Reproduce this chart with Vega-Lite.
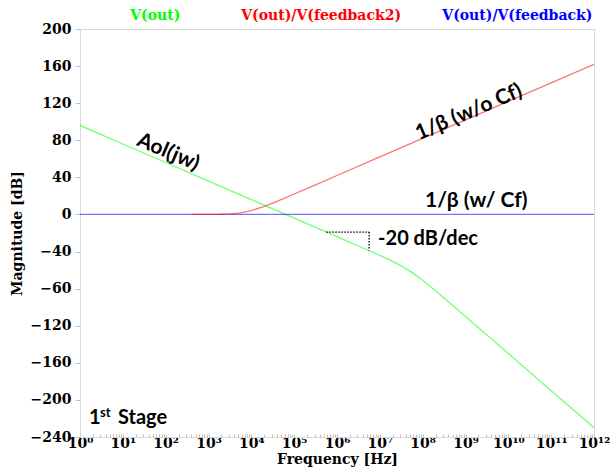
{
  "$schema": "https://vega.github.io/schema/vega-lite/v6.json",
  "width": 514,
  "height": 408,
  "autosize": {"type": "none"},
  "padding": {"left": 80, "top": 29, "right": 16, "bottom": 38},
  "background": "white",
  "config": {
    "view": {"stroke": "#d9d9d9", "strokeWidth": 1},
    "axis": {"grid": false, "domainColor": "#d9d9d9", "tickColor": "#bfbfbf", "labelColor": "black", "titleColor": "black", "labelOverlap": false}
  },
  "encoding": {
    "x": {
      "field": "freq", "type": "quantitative",
      "scale": {"type": "log", "domain": [1, 1000000000000], "nice": false},
      "axis": {
        "title": "Frequency [Hz]",
        "titleFont": "DejaVu Serif", "titleFontWeight": "bold", "titleFontSize": 14, "titlePadding": 2,
        "labelFont": "DejaVu Serif", "labelFontWeight": "bold", "labelFontSize": 14,
        "labelOverlap": false, "labelFlush": false, "labelPadding": 2,
        "tickSize": -3,
        "values": [1,2,3,4,5,6,7,8,9,10,20,30,40,50,60,70,80,90,100,200,300,400,500,600,700,800,900,1e3,2e3,3e3,4e3,5e3,6e3,7e3,8e3,9e3,1e4,2e4,3e4,4e4,5e4,6e4,7e4,8e4,9e4,1e5,2e5,3e5,4e5,5e5,6e5,7e5,8e5,9e5,1e6,2e6,3e6,4e6,5e6,6e6,7e6,8e6,9e6,1e7,2e7,3e7,4e7,5e7,6e7,7e7,8e7,9e7,1e8,2e8,3e8,4e8,5e8,6e8,7e8,8e8,9e8,1e9,2e9,3e9,4e9,5e9,6e9,7e9,8e9,9e9,1e10,2e10,3e10,4e10,5e10,6e10,7e10,8e10,9e10,1e11,2e11,3e11,4e11,5e11,6e11,7e11,8e11,9e11,1e12],
        "labelExpr": "abs(log(datum.value)/LN10 - round(log(datum.value)/LN10)) < 0.000001 ? '10' + ['⁰','¹','²','³','⁴','⁵','⁶','⁷','⁸','⁹','¹⁰','¹¹','¹²'][round(log(datum.value)/LN10)] : ''"
      }
    },
    "y": {
      "field": "mag", "type": "quantitative",
      "scale": {"domain": [-240, 200], "nice": false, "zero": false},
      "axis": {
        "title": "Magnitude [dB]",
        "titleFont": "DejaVu Serif", "titleFontWeight": "bold", "titleFontSize": 14, "titlePadding": 6,
        "labelFont": "DejaVu Serif", "labelFontWeight": "bold", "labelFontSize": 14, "labelPadding": 4,
        "labelOverlap": false, "labelFlush": false,
        "tickSize": 5,
        "values": [-240, -200, -160, -120, -80, -40, 0, 40, 80, 120, 160, 200],
        "labelExpr": "datum.value == -80 ? '−60' : datum.label"
      }
    }
  },
  "layer": [
    {
      "data": {"values": [
        {"trace": "V(out)", "freq": 1, "mag": 96},
        {"trace": "V(out)", "freq": 10, "mag": 76},
        {"trace": "V(out)", "freq": 100, "mag": 56},
        {"trace": "V(out)", "freq": 1000, "mag": 36},
        {"trace": "V(out)", "freq": 10000, "mag": 16},
        {"trace": "V(out)", "freq": 100000, "mag": -4},
        {"trace": "V(out)", "freq": 1000000, "mag": -24},
        {"trace": "V(out)", "freq": 3162278, "mag": -34},
        {"trace": "V(out)", "freq": 10000000, "mag": -44.2},
        {"trace": "V(out)", "freq": 17782794, "mag": -49.5},
        {"trace": "V(out)", "freq": 31622777, "mag": -55.5},
        {"trace": "V(out)", "freq": 56234133, "mag": -62.5},
        {"trace": "V(out)", "freq": 100000000, "mag": -71.0},
        {"trace": "V(out)", "freq": 177827941, "mag": -80.3},
        {"trace": "V(out)", "freq": 316227766, "mag": -90.1},
        {"trace": "V(out)", "freq": 1000000000, "mag": -110},
        {"trace": "V(out)", "freq": 10000000000, "mag": -150},
        {"trace": "V(out)", "freq": 100000000000, "mag": -190},
        {"trace": "V(out)", "freq": 1000000000000, "mag": -230},
        {"trace": "V(out)/V(feedback)", "freq": 1, "mag": 0},
        {"trace": "V(out)/V(feedback)", "freq": 1000000000000, "mag": 0},
        {"trace": "V(out)/V(feedback2)", "freq": 398.1, "mag": 0.01},
        {"trace": "V(out)/V(feedback2)", "freq": 1000, "mag": 0.07},
        {"trace": "V(out)/V(feedback2)", "freq": 1778.3, "mag": 0.21},
        {"trace": "V(out)/V(feedback2)", "freq": 3162.3, "mag": 0.64},
        {"trace": "V(out)/V(feedback2)", "freq": 5623.4, "mag": 1.76},
        {"trace": "V(out)/V(feedback2)", "freq": 10000, "mag": 4.12},
        {"trace": "V(out)/V(feedback2)", "freq": 17782.8, "mag": 7.79},
        {"trace": "V(out)/V(feedback2)", "freq": 31622.8, "mag": 12.27},
        {"trace": "V(out)/V(feedback2)", "freq": 56234.1, "mag": 17.08},
        {"trace": "V(out)/V(feedback2)", "freq": 100000, "mag": 22.03},
        {"trace": "V(out)/V(feedback2)", "freq": 316227.8, "mag": 32.0},
        {"trace": "V(out)/V(feedback2)", "freq": 1000000, "mag": 42.0},
        {"trace": "V(out)/V(feedback2)", "freq": 10000000, "mag": 62.0},
        {"trace": "V(out)/V(feedback2)", "freq": 100000000, "mag": 82.0},
        {"trace": "V(out)/V(feedback2)", "freq": 1000000000, "mag": 102.0},
        {"trace": "V(out)/V(feedback2)", "freq": 10000000000, "mag": 122.0},
        {"trace": "V(out)/V(feedback2)", "freq": 100000000000, "mag": 142.0},
        {"trace": "V(out)/V(feedback2)", "freq": 1000000000000, "mag": 162.0}
      ]},
      "mark": {"type": "line", "strokeWidth": 1.3, "strokeOpacity": 0.55, "clip": true},
      "encoding": {
        "color": {
          "field": "trace", "type": "nominal",
          "scale": {"domain": ["V(out)", "V(out)/V(feedback2)", "V(out)/V(feedback)"], "range": ["#00ff00", "#ff0000", "#0000ff"]},
          "legend": null
        },
        "order": {"field": "freq"}
      }
    },
    {
      "data": {"values": [{"freq": 562341, "freq2": 5623413, "mag": -19}]},
      "mark": {"type": "rule", "strokeDash": [1.5, 1.5], "color": "black", "strokeWidth": 1.3},
      "encoding": {"x2": {"field": "freq2"}}
    },
    {
      "data": {"values": [{"freq": 5623413, "mag": -19, "mag2": -39}]},
      "mark": {"type": "rule", "strokeDash": [1.5, 1.5], "color": "black", "strokeWidth": 1.3},
      "encoding": {"y2": {"field": "mag2"}}
    },
    {
      "data": {"values": [
        {"label": "V(out)", "freq": 57, "mag": 200, "col": "V(out)"},
        {"label": "V(out)/V(feedback2)", "freq": 426000, "mag": 200, "col": "V(out)/V(feedback2)"},
        {"label": "V(out)/V(feedback)", "freq": 16200000000, "mag": 200, "col": "V(out)/V(feedback)"}
      ]},
      "mark": {"type": "text", "font": "DejaVu Serif", "fontWeight": "bold", "fontSize": 14, "dy": -13, "align": "center", "baseline": "middle"},
      "encoding": {
        "text": {"field": "label"},
        "color": {
          "field": "col", "type": "nominal",
          "scale": {"domain": ["V(out)", "V(out)/V(feedback2)", "V(out)/V(feedback)"], "range": ["#55ff33", "#ee1111", "#3333ee"]},
          "legend": null
        }
      }
    },
    {
      "data": {"values": [{"label": "Aol(jw)", "freq": 114, "mag": 67}]},
      "mark": {"type": "text", "font": "Lato", "fontWeight": "bold", "fontSize": 21, "angle": 23, "align": "center", "baseline": "middle", "color": "black"},
      "encoding": {"text": {"field": "label"}}
    },
    {
      "data": {"values": [{"label": "1/β (w/o Cf)", "freq": 1200000000, "mag": 110}]},
      "mark": {"type": "text", "font": "Lato", "fontWeight": "bold", "fontSize": 21, "angle": 337, "align": "center", "baseline": "middle", "color": "black"},
      "encoding": {"text": {"field": "label"}}
    },
    {
      "data": {"values": [{"label": "1/β (w/ Cf)", "freq": 1780000000, "mag": 14.6}]},
      "mark": {"type": "text", "font": "Lato", "fontWeight": "bold", "fontSize": 21, "align": "center", "baseline": "middle", "color": "black"},
      "encoding": {"text": {"field": "label"}}
    },
    {
      "data": {"values": [{"label": "-20 dB/dec", "freq": 9100000, "mag": -26.4}]},
      "mark": {"type": "text", "font": "Lato", "fontWeight": "bold", "fontSize": 20, "align": "left", "baseline": "middle", "color": "black"},
      "encoding": {"text": {"field": "label"}}
    },
    {
      "data": {"values": [{"label": "1", "freq": 1.62, "mag": -219.5}]},
      "mark": {"type": "text", "font": "Lato", "fontWeight": "bold", "fontSize": 20, "align": "left", "baseline": "middle", "color": "black"},
      "encoding": {"text": {"field": "label"}}
    },
    {
      "data": {"values": [{"label": "st", "freq": 1.62, "mag": -219.5}]},
      "mark": {"type": "text", "font": "Lato", "fontWeight": "bold", "fontSize": 13, "align": "left", "baseline": "middle", "color": "black", "dx": 11, "dy": -5},
      "encoding": {"text": {"field": "label"}}
    },
    {
      "data": {"values": [{"label": "Stage", "freq": 1.62, "mag": -219.5}]},
      "mark": {"type": "text", "font": "Lato", "fontWeight": "bold", "fontSize": 20, "align": "left", "baseline": "middle", "color": "black", "dx": 29},
      "encoding": {"text": {"field": "label"}}
    }
  ]
}
